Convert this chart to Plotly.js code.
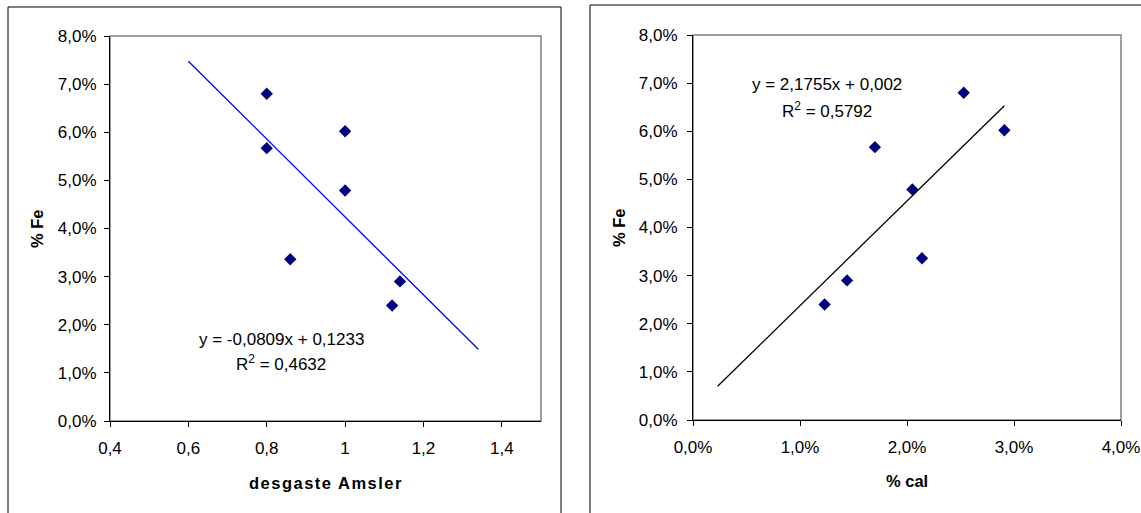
<!DOCTYPE html>
<html>
<head>
<meta charset="utf-8">
<script src="https://cdn.plot.ly/plotly-3.0.1.min.js"></script>
<style>html,body{margin:0;padding:0;background:#fff;}#chart{width:1141px;height:513px;}</style>
</head>
<body>
<div id="chart"></div>
<script>
// ---- data ----
const fePct   = [0.068, 0.0602, 0.0567, 0.0479, 0.0336, 0.029, 0.024];
const amsler  = [0.80, 1.00, 0.80, 1.00, 0.86, 1.14, 1.12];
const calPct  = [0.0253, 0.0291, 0.0170, 0.0205, 0.0214, 0.0144, 0.0123];

// trendline coefficients (as printed) and drawn x span
const fitAmsler = {slope: -0.0809, intercept: 0.1233, xspan: [0.6, 1.34]};
const fitCal    = {slope: 2.1755, intercept: 0.002, xspan: [0.0023, 0.0291]};

const eqAmsler = ["y = -0,0809x + 0,1233", "R<sup>2</sup> = 0,4632"];
const eqCal    = ["y = 2,1755x + 0,002", "R<sup>2</sup> = 0,5792"];

const titleY = "% Fe";
const titleX1 = "desgaste Amsler";
const titleX2 = "% cal";

// ---- layout helpers ----
const W = 1141, H = 513;
const px = v => v / W;
const py = v => 1 - v / H;
const FONT = "Liberation Sans, Arial, Helvetica, sans-serif";

function lineY(fit) { return fit.xspan.map(x => fit.slope * x + fit.intercept); }

const markerStyle = {symbol: "diamond", size: 9.5, color: "#000080"};

const traces = [
  {x: amsler, y: fePct, type: "scatter", mode: "markers", marker: markerStyle, xaxis: "x", yaxis: "y"},
  {x: fitAmsler.xspan, y: lineY(fitAmsler), type: "scatter", mode: "lines", line: {color: "#0000FF", width: 1.3}, xaxis: "x", yaxis: "y"},
  {x: calPct, y: fePct, type: "scatter", mode: "markers", marker: markerStyle, xaxis: "x2", yaxis: "y2"},
  {x: fitCal.xspan, y: lineY(fitCal), type: "scatter", mode: "lines", line: {color: "#000000", width: 1.3}, xaxis: "x2", yaxis: "y2"}
];

const tickFont = {family: FONT, size: 17, color: "#000"};
const axisCommon = {
  showgrid: false, zeroline: false, showline: true, linecolor: "#000", linewidth: 1,
  ticks: "outside", ticklen: 5, tickwidth: 1, tickcolor: "#000",
  tickfont: tickFont, automargin: false, fixedrange: true
};

const eqFont = {family: FONT, size: 17, color: "#000"};
const titleFont = {family: FONT, size: 16.5, color: "#000"};

const layout = {
  width: W, height: H,
  margin: {l: 0, r: 0, t: 0, b: 0},
  paper_bgcolor: "#fff", plot_bgcolor: "#fff",
  showlegend: false,
  separators: ",.",
  font: {family: FONT, color: "#000"},
  xaxis: Object.assign({}, axisCommon, {domain: [px(110), px(541)], range: [0.4, 1.5], dtick: 0.2, tick0: 0.4, anchor: "y", ticklabelstandoff: 7}),
  yaxis: Object.assign({}, axisCommon, {domain: [py(421), py(36)], range: [0, 0.08], dtick: 0.01, tick0: 0, tickformat: ".1%", anchor: "x", ticklabelstandoff: 4}),
  xaxis2: Object.assign({}, axisCommon, {domain: [px(693), px(1121)], range: [0, 0.04], dtick: 0.01, tick0: 0, tickformat: ".1%", anchor: "y2", ticklabelstandoff: 7}),
  yaxis2: Object.assign({}, axisCommon, {domain: [py(420), py(35)], range: [0, 0.08], dtick: 0.01, tick0: 0, tickformat: ".1%", anchor: "x2", ticklabelstandoff: 6}),
  shapes: [
    // outer chart frames
    {type: "rect", xref: "paper", yref: "paper", x0: px(8), x1: px(561), y0: py(530), y1: py(7), line: {color: "#000", width: 1}, layer: "below"},
    {type: "rect", xref: "paper", yref: "paper", x0: px(590), x1: px(1160), y0: py(530), y1: py(5), line: {color: "#000", width: 1}, layer: "below"},
    // plot area borders (grey)
    {type: "rect", xref: "x domain", yref: "y domain", x0: 0, x1: 1, y0: 0, y1: 1, line: {color: "#808080", width: 1.5}, layer: "below"},
    {type: "rect", xref: "x2 domain", yref: "y2 domain", x0: 0, x1: 1, y0: 0, y1: 1, line: {color: "#808080", width: 1.5}, layer: "below"}
  ],
  annotations: [
    {text: eqAmsler[0], xref: "paper", yref: "paper", x: px(281), y: py(339), xanchor: "center", yanchor: "middle", showarrow: false, font: eqFont},
    {text: eqAmsler[1], xref: "paper", yref: "paper", x: px(281), y: py(363), xanchor: "center", yanchor: "middle", showarrow: false, font: eqFont},
    {text: eqCal[0], xref: "paper", yref: "paper", x: px(827), y: py(84), xanchor: "center", yanchor: "middle", showarrow: false, font: eqFont},
    {text: eqCal[1], xref: "paper", yref: "paper", x: px(827), y: py(110), xanchor: "center", yanchor: "middle", showarrow: false, font: eqFont},
    // axis titles
    {text: "<b>" + titleY + "</b>", xref: "paper", yref: "paper", x: px(37), y: py(229), textangle: -90, xanchor: "center", yanchor: "middle", showarrow: false, font: titleFont},
    {text: "<b>" + titleY + "</b>", xref: "paper", yref: "paper", x: px(619), y: py(228), textangle: -90, xanchor: "center", yanchor: "middle", showarrow: false, font: titleFont},
    {text: "<b><span style=\"letter-spacing:1.5px\">" + titleX1 + "</span></b>", xref: "paper", yref: "paper", x: px(326), y: py(483), xanchor: "center", yanchor: "middle", showarrow: false, font: titleFont},
    {text: "<b>" + titleX2 + "</b>", xref: "paper", yref: "paper", x: px(907), y: py(481), xanchor: "center", yanchor: "middle", showarrow: false, font: titleFont}
  ]
};

Plotly.newPlot("chart", traces, layout, {displayModeBar: false, staticPlot: true});
</script>
</body>
</html>
